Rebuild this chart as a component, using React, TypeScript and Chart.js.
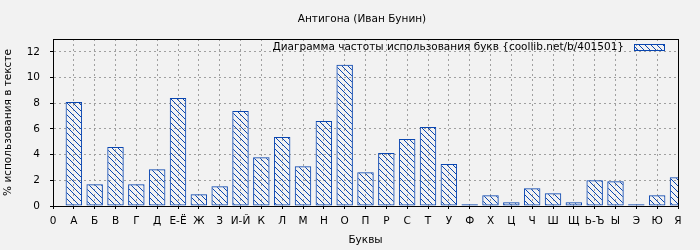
import React, { useEffect, useRef } from 'react';
import { Chart, registerables } from 'chart.js';

Chart.register(...registerables);

const chartTitle = 'Антигона (Иван Бунин)';
const seriesLabel = 'Диаграмма частоты использования букв {coollib.net/b/401501}';
const xTitle = 'Буквы';
const yTitle = '% использования в тексте';

const letters = ['0', 'А', 'Б', 'В', 'Г', 'Д', 'Е-Ё', 'Ж', 'З', 'И-Й', 'К', 'Л', 'М', 'Н', 'О', 'П', 'Р', 'С', 'Т', 'У', 'Ф', 'Х', 'Ц', 'Ч', 'Ш', 'Щ', 'Ь-Ъ', 'Ы', 'Э', 'Ю', 'Я'];
const freq = [null, 8.1, 1.7, 4.6, 1.7, 2.87, 8.41, 0.91, 1.54, 7.4, 3.8, 5.37, 3.1, 6.62, 11.0, 2.63, 4.12, 5.21, 6.15, 3.26, 0.13, 0.83, 0.29, 1.38, 0.99, 0.29, 2.0, 1.93, 0.13, 0.83, 2.24];
const yMin = 0;
const yMax = 13;
const yStep = 2;

const FONT = '"DejaVu Sans", sans-serif';
const FS = 10.5;
const BLUE = '#0a46b0';
const BG = '#f2f2f2';

function makeHatch(): CanvasPattern | string {
  const s = 6;
  const c = document.createElement('canvas');
  c.width = s;
  c.height = s;
  const g = c.getContext('2d');
  if (!g) return BLUE;
  g.strokeStyle = BLUE;
  g.lineWidth = 1;
  g.beginPath();
  g.moveTo(-1, -1);
  g.lineTo(s + 1, s + 1);
  g.moveTo(s - 1, -1);
  g.lineTo(s + 1, 1);
  g.moveTo(-1, s - 1);
  g.lineTo(1, s + 1);
  g.stroke();
  const p = g.createPattern(c, 'repeat');
  return p || BLUE;
}

export default function App() {
  const ref = useRef<HTMLCanvasElement | null>(null);

  useEffect(() => {
    document.body.style.margin = '0';
    const canvas = ref.current;
    if (!canvas) return;
    const hatch = makeHatch();

    const decor = {
      id: 'decor',
      beforeDraw(chart: any) {
        const { ctx, width, height } = chart;
        ctx.save();
        ctx.fillStyle = BG;
        ctx.fillRect(0, 0, width, height);
        ctx.restore();
      },
      afterDraw(chart: any) {
        const { ctx, chartArea: a } = chart;
        ctx.save();
        ctx.strokeStyle = '#000';
        ctx.lineWidth = 1;
        ctx.strokeRect(Math.round(a.left) + 0.5, Math.round(a.top) + 0.5, Math.round(a.right - a.left), Math.round(a.bottom - a.top));
        // title
        ctx.fillStyle = '#000';
        ctx.font = FS + 'px ' + FONT;
        ctx.textAlign = 'center';
        ctx.textBaseline = 'middle';
        ctx.fillText(chartTitle, 362, 19);
        // legend
        const bx = 634, by = 44, bw = 31, bh = 7;
        ctx.textAlign = 'right';
        ctx.fillText(seriesLabel, bx - 10, by + bh / 2);
        ctx.fillStyle = hatch as any;
        ctx.fillRect(bx, by, bw, bh);
        ctx.strokeStyle = BLUE;
        ctx.strokeRect(bx + 0.5, by + 0.5, bw - 1, bh - 1);
        ctx.restore();
      },
    };

    const chart = new Chart(canvas, {
      type: 'bar',
      data: {
        labels: letters,
        datasets: [
          {
            label: seriesLabel,
            data: freq as any,
            backgroundColor: hatch as any,
            borderColor: BLUE,
            borderWidth: 1,
            borderSkipped: false,
            categoryPercentage: 1,
            barPercentage: 0.79,
            clip: 0 as any,
          },
        ],
      },
      options: {
        responsive: false,
        animation: false,
        events: [],
        layout: { padding: { top: 39, right: 22, left: 0, bottom: 0 } },
        plugins: {
          legend: { display: false },
          title: { display: false },
          tooltip: { enabled: false },
        },
        scales: {
          x: {
            type: 'category',
            offset: false,
            grid: {
              offset: false,
              color: '#a0a0a0',
              lineWidth: 1,
              drawTicks: true,
              tickLength: 3,
              tickColor: '#000',
              tickBorderDash: [],
            },
            border: { display: true, color: '#000', width: 1, dash: [2, 3] },
            ticks: {
              autoSkip: false,
              maxRotation: 0,
              minRotation: 0,
              padding: 6,
              color: '#000',
              font: { family: FONT, size: FS },
            },
            title: {
              display: true,
              text: xTitle,
              color: '#000',
              font: { family: FONT, size: FS },
              padding: { top: 0, bottom: 3 },
            },
            afterFit(scale: any) {
              scale.height = 44;
            },
          },
          y: {
            type: 'linear',
            min: yMin,
            max: yMax,
            grid: {
              color: '#a0a0a0',
              lineWidth: 1,
              drawTicks: true,
              tickLength: 3,
              tickColor: '#000',
              tickBorderDash: [],
            },
            border: { display: true, color: '#000', width: 1, dash: [2, 3] },
            ticks: {
              stepSize: yStep,
              includeBounds: false,
              padding: 10,
              color: '#000',
              font: { family: FONT, size: FS },
            },
            title: {
              display: true,
              text: yTitle,
              color: '#000',
              font: { family: FONT, size: FS },
              padding: { top: 2, bottom: 0 },
            },
            afterFit(scale: any) {
              scale.width = 53;
            },
          },
        },
      },
      plugins: [decor],
    });

    return () => {
      chart.destroy();
    };
  }, []);

  return (
    <div style={{ position: 'fixed', left: 0, top: 0, width: 700, height: 250, background: BG }}>
      <canvas ref={ref} width={700} height={250} style={{ display: 'block', width: 700, height: 250 }} />
    </div>
  );
}
